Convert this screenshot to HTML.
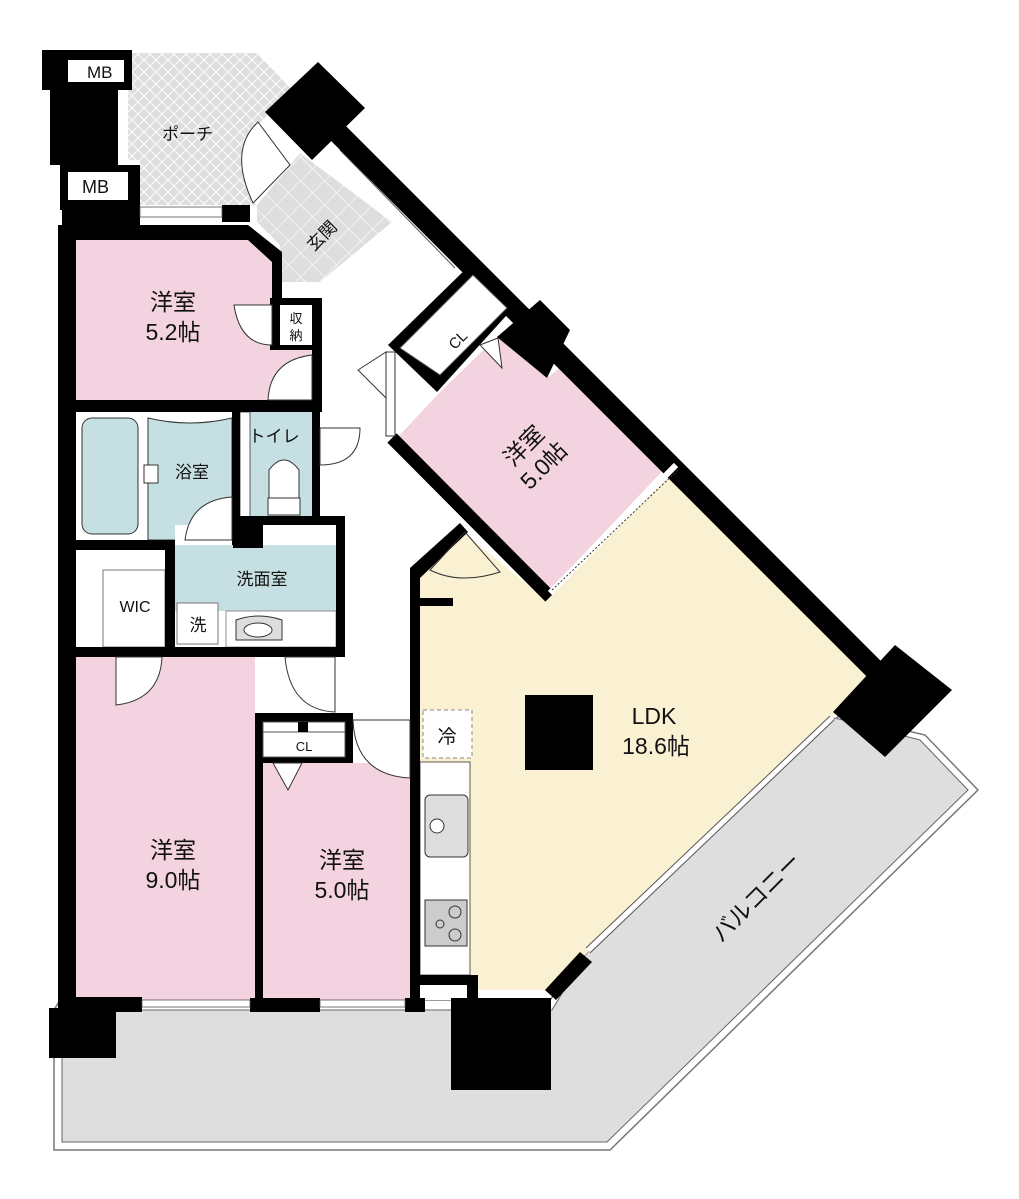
<!DOCTYPE html>
<html><head><meta charset="utf-8"><style>
html,body{margin:0;padding:0;background:#fff;width:1019px;height:1199px;overflow:hidden}
svg{display:block}
text{font-family:"Liberation Sans","Noto Sans CJK JP",sans-serif;fill:#111}
</style></head><body>
<svg width="1019" height="1199" viewBox="0 0 1019 1199" xmlns="http://www.w3.org/2000/svg">
<defs>
<pattern id="hatch" width="12" height="12" patternUnits="userSpaceOnUse">
<rect width="12" height="12" fill="#dedede"/>
<path d="M0 0L12 12M12 0L0 12" stroke="#fff" stroke-width="1"/>
</pattern>
<pattern id="grid" width="17" height="17" patternUnits="userSpaceOnUse" patternTransform="rotate(45)">
<rect width="17" height="17" fill="#dedede"/>
<path d="M0 0H17M0 0V17" stroke="#fff" stroke-width="1.2"/>
</pattern>
</defs>

<!-- balcony -->
<polygon points="54,1010 54,1150 610,1150 978,790 925,735 840,715 585,955 550,1000 60,1000" fill="#fff" stroke="#777" stroke-width="1.5"/>
<polygon points="62,1010 62,1142 607,1142 968,790 920,740 835,718 585,955 552,1010" fill="#dedede" stroke="#666" stroke-width="1"/>

<!-- porch & genkan -->
<polygon points="128,53 258,53 292,90 255,128 255,205 140,205 140,160 128,160" fill="url(#hatch)"/>
<polygon points="257,205 300,153 392,222 320,282 280,282 280,245 257,222" fill="url(#grid)"/>
<line x1="340" y1="150" x2="455" y2="268" stroke="#555" stroke-width="1"/>

<!-- rooms fills -->
<polygon points="76,240 248,240 272,262 272,300 312,300 312,400 76,400" fill="#f3d3e0"/>
<rect x="76" y="412" width="156" height="128" fill="#fff"/>
<rect x="82" y="418" width="56" height="116" rx="10" fill="#c5dfe2" stroke="#333" stroke-width="1"/>
<path d="M148 418 L148 540 L232 540 L232 418 Q190 428 148 418Z" fill="#c5dfe2" stroke="#333" stroke-width="1"/>
<rect x="144" y="465" width="14" height="18" fill="#fff" stroke="#333"/>
<rect x="240" y="412" width="72" height="106" fill="#c5dfe2"/>
<rect x="240" y="412" width="10" height="106" fill="#fff" stroke="#333" stroke-width="0.8"/>
<path d="M269 515 V470 Q284 450 299 470 V515Z" fill="#fff" stroke="#333"/>
<rect x="268" y="498" width="32" height="17" fill="#fff" stroke="#333"/>
<rect x="175" y="525" width="161" height="122" fill="#fff"/>
<rect x="175" y="545" width="161" height="66" fill="#c5dfe2"/>
<rect x="177" y="603" width="41" height="41" fill="#fff" stroke="#777"/>
<rect x="226" y="611" width="110" height="36" fill="#fff" stroke="#777" stroke-width="0.8"/>
<path d="M236 640 V620 Q258 612 282 620 V640Z" fill="#ddd" stroke="#333"/>
<ellipse cx="258" cy="630" rx="14" ry="7" fill="#fff" stroke="#333"/>
<rect x="75" y="550" width="90" height="97" fill="#fff"/>
<rect x="103" y="570" width="62" height="77" fill="#fff" stroke="#777"/>
<rect x="76" y="657" width="179" height="343" fill="#f3d3e0"/>
<rect x="263" y="763" width="147" height="237" fill="#f3d3e0"/>

<!-- 洋室5.0 rotated -->
<polygon points="397,438 440,392 497,337 547,378 570,360 670,463 547,593" fill="#f3d3e0"/>
<!-- LDK -->
<polygon points="420,572 460,530 547,600 678,465 880,668 835,715 585,955 545,990 470,990 470,975 420,975" fill="#faf0d2"/>
<rect x="420" y="762" width="50" height="213" fill="#fff" stroke="#333" stroke-width="0.8"/>
<rect x="425" y="795" width="43" height="62" rx="5" fill="#ddd" stroke="#333"/>
<circle cx="437" cy="826" r="7" fill="#fff" stroke="#333"/>
<rect x="425" y="900" width="42" height="46" fill="#ccc" stroke="#333"/>
<circle cx="455" cy="912" r="6" fill="none" stroke="#333"/>
<circle cx="455" cy="935" r="6" fill="none" stroke="#333"/>
<circle cx="440" cy="924" r="4" fill="none" stroke="#333"/>
<rect x="423" y="710" width="49" height="48" fill="#fff" stroke="#888" stroke-dasharray="4,3"/>
<rect x="525" y="695" width="68" height="75" fill="#000"/>
<rect x="420" y="985" width="47" height="15" fill="#fff"/>

<!-- walls -->
<g fill="#000">
<rect x="42" y="50" width="90" height="40"/>
<rect x="50" y="90" width="68" height="75"/>
<rect x="60" y="165" width="80" height="45"/>
<rect x="62" y="205" width="78" height="35"/>
<rect x="222" y="205" width="28" height="17"/>
<polygon points="62,225 248,225 282,252 282,300 272,300 272,262 248,240 62,240"/>
<rect x="58" y="225" width="18" height="785"/>
<rect x="270" y="298" width="52" height="52"/>
<rect x="312" y="298" width="10" height="114"/>
<rect x="62" y="400" width="260" height="12"/>
<rect x="232" y="405" width="8" height="140"/>
<rect x="312" y="405" width="8" height="113"/>
<rect x="233" y="516" width="112" height="9"/>
<rect x="233" y="525" width="30" height="23"/>
<rect x="62" y="540" width="113" height="10"/>
<rect x="165" y="540" width="10" height="117"/>
<rect x="336" y="516" width="9" height="141"/>
<rect x="62" y="647" width="283" height="10"/>
<rect x="255" y="713" width="98" height="50"/>
<rect x="255" y="713" width="8" height="292"/>
<rect x="410" y="568" width="10" height="437"/>
<polygon points="410,568 460,523 468,532 420,578"/>
<rect x="420" y="598" width="33" height="8"/>
<rect x="410" y="975" width="68" height="10"/>
<rect x="467" y="985" width="11" height="20"/>
<rect x="62" y="997" width="80" height="15"/>
<rect x="49" y="1008" width="67" height="50"/>
<rect x="250" y="998" width="70" height="14"/>
<rect x="405" y="998" width="20" height="14"/>
<rect x="451" y="998" width="100" height="92"/>
<polygon points="545,990 580,952 592,962 556,1000"/>
<polygon points="265,112 318,62 365,108 312,160"/>
<polygon points="833,712 895,645 952,690 885,757"/>
<polygon points="388,345 473,262 515,306 437,392"/>
<polygon points="497,337 540,300 570,330 547,378"/>
</g>
<line x1="315" y1="110" x2="890" y2="685" stroke="#000" stroke-width="21"/>
<!-- CL box (bottom) -->
<rect x="263" y="722" width="82" height="35" fill="#fff" stroke="#555"/>
<line x1="263" y1="732" x2="345" y2="732" stroke="#555"/>
<rect x="298" y="722" width="10" height="10" fill="#000"/>
<polygon points="273,763 302,763 288,790" fill="#fff" stroke="#333"/>
<!-- inner walls -->
<line x1="392" y1="438" x2="550" y2="597" stroke="#000" stroke-width="13"/>
<polygon points="400,348 473,275 507,308 440,375" fill="#fff" stroke="#555"/>
<polygon points="480,345 498,338 502,368" fill="#fff" stroke="#333"/>
<rect x="386" y="352" width="9" height="84" fill="#fff" stroke="#333"/>
<rect x="280" y="305" width="32" height="40" fill="#fff"/>
<rect x="68" y="60" width="56" height="22" fill="#fff"/>
<rect x="68" y="172" width="60" height="28" fill="#fff"/>
<rect x="140" y="207" width="82" height="10" fill="#fff" stroke="#555" stroke-width="0.8"/>
<rect x="118" y="90" width="10" height="70" fill="#fff"/>
<line x1="550" y1="593" x2="676" y2="465" stroke="#fff" stroke-width="6"/>
<line x1="552" y1="590" x2="680" y2="468" stroke="#333" stroke-width="1" stroke-dasharray="2,2"/>
<rect x="142" y="1000" width="108" height="7" fill="#fff" stroke="#555" stroke-width="0.8"/>
<rect x="320" y="1000" width="85" height="7" fill="#fff" stroke="#555" stroke-width="0.8"/>
<line x1="588" y1="950" x2="832" y2="718" stroke="#fff" stroke-width="6"/>
<line x1="586" y1="948" x2="830" y2="716" stroke="#555" stroke-width="1"/>
<line x1="590" y1="953" x2="834" y2="720" stroke="#555" stroke-width="1"/>

<!-- doors -->
<g fill="#fff" stroke="#333" stroke-width="1">
<path d="M234 305 Q240 345 272 345 V305Z"/>
<path d="M312 355 Q270 360 268 400 H312Z"/>
<path d="M320 428 H360 Q360 465 320 465Z"/>
<path d="M232 497 Q190 500 185 540 H232Z"/>
<path d="M116 657 V705 Q160 700 162 657Z"/>
<path d="M285 657 Q290 710 335 712 V657Z"/>
<path d="M353 720 Q355 775 410 778 V720Z"/>
<path d="M430 570 Q460 585 500 572 L465 532Z" fill="none"/>
<path d="M258 122 Q228 150 253 203 L290 165Z"/>
<path d="M358 370 L386 352 V398Z"/>
</g>

<!-- labels -->
<text x="87" y="78" font-size="17">MB</text>
<text x="82" y="193" font-size="18">MB</text>
<text x="162" y="140" font-size="17">ポーチ</text>
<text x="326" y="240" font-size="17" transform="rotate(-45 326 240)" text-anchor="middle">玄関</text>
<text x="173" y="310" font-size="23" text-anchor="middle">洋室</text>
<text x="173" y="340" font-size="23" text-anchor="middle">5.2帖</text>
<text x="296" y="323" font-size="13" text-anchor="middle">収</text>
<text x="296" y="340" font-size="13" text-anchor="middle">納</text>
<text x="274" y="442" font-size="17" text-anchor="middle">トイレ</text>
<text x="192" y="478" font-size="17" text-anchor="middle">浴室</text>
<text x="262" y="585" font-size="17" text-anchor="middle">洗面室</text>
<text x="135" y="612" font-size="16" text-anchor="middle">WIC</text>
<text x="198" y="631" font-size="17" text-anchor="middle">洗</text>
<text x="304" y="751" font-size="13" text-anchor="middle">CL</text>
<text x="458" y="345" font-size="15" text-anchor="middle" transform="rotate(-45 458 340)">CL</text>
<text x="533" y="450" font-size="23" text-anchor="middle" transform="rotate(-45 533 455)">洋室</text>
<text x="533" y="478" font-size="23" text-anchor="middle" transform="rotate(-45 533 455)">5.0帖</text>
<text x="447" y="743" font-size="19" text-anchor="middle">冷</text>
<text x="654" y="724" font-size="23" text-anchor="middle">LDK</text>
<text x="656" y="754" font-size="23" text-anchor="middle">18.6帖</text>
<text x="173" y="858" font-size="23" text-anchor="middle">洋室</text>
<text x="173" y="888" font-size="23" text-anchor="middle">9.0帖</text>
<text x="342" y="868" font-size="23" text-anchor="middle">洋室</text>
<text x="342" y="898" font-size="23" text-anchor="middle">5.0帖</text>
<text x="757" y="905" font-size="23" text-anchor="middle" transform="rotate(-45 757 898)">バルコニー</text>
</svg>
</body></html>
